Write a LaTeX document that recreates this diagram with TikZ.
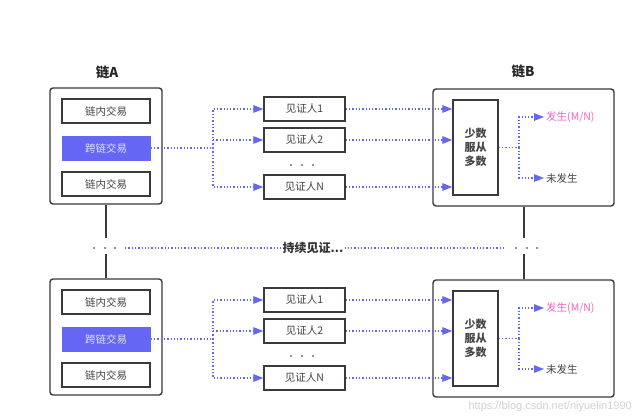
\documentclass[tikz,border=0pt]{standalone}
\usepackage{fontspec}
\setmainfont{Noto Sans CJK SC}
\newfontfamily\wmfont{Liberation Sans}
\usetikzlibrary{arrows.meta}
\definecolor{edgegray}{HTML}{3A3A3A}
\definecolor{txtgray}{HTML}{444444}
\definecolor{wblue}{HTML}{6666F5}
\definecolor{wpink}{HTML}{F065C0}
\tikzset{
  chainbox/.style={draw=edgegray, line width=1.4pt, rounded corners=3pt, inner sep=0pt},
  txbox/.style={draw=edgegray, line width=1.4pt, minimum width=88pt, minimum height=24pt, inner sep=0pt, font=\fontsize{10.5}{12}\selectfont, text=txtgray},
  crossbox/.style={fill=wblue, minimum width=89pt, minimum height=25pt, inner sep=0pt, font=\fontsize{10.5}{12}\selectfont, text=white!80!wblue},
  witbox/.style={draw=edgegray, line width=1.4pt, minimum width=81pt, minimum height=24pt, inner sep=0pt, font=\fontsize{10.5}{12}\selectfont, text=txtgray},
  majbox/.style={draw=edgegray, line width=1.4pt, minimum width=45pt, minimum height=95pt, inner sep=0pt, align=center, font=\fontsize{11}{14}\selectfont\bfseries, text=txtgray},
  outtxt/.style={anchor=west, inner sep=2pt, font=\fontsize{10.5}{12}\selectfont},
  titletxt/.style={font=\fontsize{13.5}{15}\selectfont\bfseries, text=black!85},
  dotl/.style={wblue, dotted, line width=1.3pt},
  arr/.style={dotl, -{Triangle[length=10pt,width=7.5pt]}},
  gdot/.style={fill=black!55, draw=none, circle, inner sep=0pt, minimum size=2.4pt},
  conn/.style={draw=edgegray, line width=1.4pt},
}
\newcommand\halfpart{%
  \node[chainbox, minimum width=112pt, minimum height=116pt] (chainA) at (106,146) {};
  \node[txbox] (tx1) at (106,111) {链内交易};
  \node[crossbox] (cross) at (106,148) {跨链交易};
  \node[txbox] (tx2) at (106,184) {链内交易};
  \node[witbox] (w1) at (304.5,109) {见证人1};
  \node[witbox] (w2) at (304.5,140) {见证人2};
  \node[witbox] (wN) at (304.5,187) {见证人N};
  \node[gdot] (d1) at (291,165) {};
  \node[gdot] (d2) at (302,165) {};
  \node[gdot] (d3) at (313,165) {};
  \node[chainbox, minimum width=181pt, minimum height=117pt] (chainB) at (523.5,147.5) {};
  \node[majbox] (maj) at (475.5,147.5) {少数\\服从\\多数};
  \coordinate (brA) at (213,148);
  \coordinate (brB) at (519,147.5);
  \node[outtxt, text=wpink] (yes) at (544,117) {发生(M/N)};
  \node[outtxt, text=txtgray] (no) at (544,178) {未发生};
  \draw[dotl] (cross.east) -- (brA);
  \draw[arr] (brA) |- (w1.west);
  \draw[arr] (brA) |- (wN.west);
  \draw[arr] (brA |- w2.west) -- (w2.west);
  \draw[arr] (w1.east) -- (w1.east -| maj.west);
  \draw[arr] (w2.east) -- (w2.east -| maj.west);
  \draw[arr] (wN.east) -- (wN.east -| maj.west);
  \draw[dotl] (maj.east) -- (brB);
  \draw[arr] (brB) |- (yes.west);
  \draw[arr] (brB) |- (no.west);
}
\begin{document}
\begin{tikzpicture}[x=1pt, y=-1pt]
  \useasboundingbox[fill=white] (0,0) rectangle (640,416);
  \node[titletxt] (tA) at (107,72) {链A};
  \node[titletxt] (tB) at (523,71) {链B};
  \begin{scope}[name prefix=U-]
    \halfpart
  \end{scope}
  \begin{scope}[shift={(0,191)}, name prefix=L-]
    \halfpart
  \end{scope}
  % vertical chain links
  \coordinate (aTop) at (106,238);
  \coordinate (aBot) at (106,254);
  \coordinate (bTop) at (524,238);
  \coordinate (bBot) at (524,254);
  \draw[conn] (U-chainA.south) -- (aTop);
  \draw[conn] (aBot) -- (L-chainA.north);
  \draw[conn] (U-chainB.south -| bTop) -- (bTop);
  \draw[conn] (bBot) -- (L-chainB.north -| bBot);
  \node[gdot] (la1) at (94,248) {};
  \node[gdot] (la2) at (105,248) {};
  \node[gdot] (la3) at (115,248) {};
  \node[gdot] (rb1) at (516,248) {};
  \node[gdot] (rb2) at (527,248) {};
  \node[gdot] (rb3) at (537,248) {};
  % continuing witness
  \coordinate (cl) at (125,248);
  \coordinate (cr) at (504,248);
  \node[font=\fontsize{12}{14}\selectfont\bfseries, text=black!80, inner sep=1pt] (cont) at (313,248) {持续见证...};
  \draw[dotl] (cl) -- (cont.west);
  \draw[dotl] (cont.east) -- (cr);
  % watermark
  \node[anchor=east, font=\wmfont\fontsize{11}{13}\selectfont, text=black!18, inner sep=0pt] (wm) at (632,407) {https://blog.csdn.net/niyuelin1990};
\end{tikzpicture}
\end{document}
